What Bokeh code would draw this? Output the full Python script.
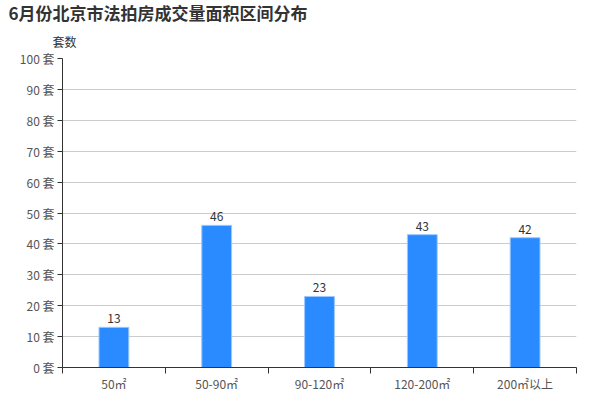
from bokeh.plotting import figure
from bokeh.models import ColumnDataSource, Range1d, FixedTicker, Title, LabelSet
from bokeh.core.properties import value
from bokeh.embed import file_html
from bokeh.resources import INLINE

categories = ["50㎡", "50-90㎡", "90-120㎡", "120-200㎡", "200㎡以上"]
counts = [13, 46, 23, 43, 42]
y_ticks = [0, 10, 20, 30, 40, 50, 60, 70, 80, 90, 100]
title_text = "6月份北京市法拍房成交量面积区间分布"
y_name = "套数"

FONT = "Noto Sans CJK SC"
xs = [i + 0.5 for i in range(len(categories))]
src = ColumnDataSource(dict(x=xs, top=counts, lab=[str(c) for c in counts]))

p = figure(width=600, height=400, output_backend="svg", toolbar_location=None,
           x_range=Range1d(0, len(categories)), y_range=Range1d(0, 100),
           min_border_left=62, min_border_right=24, min_border_top=0, min_border_bottom=33)
p.outline_line_color = None

p.vbar(x="x", top="top", width=0.29, source=src, fill_color="#2A8AFF",
       line_color="#9CC8FF", line_width=1)
labels = LabelSet(x="x", y="top", text="lab", source=src, text_align="center",
                  text_baseline="bottom", y_offset=4, text_font_size="12px",
                  text_color="#333333", text_font=value(FONT))
p.add_layout(labels)

# axes
p.xaxis.ticker = FixedTicker(ticks=xs, minor_ticks=list(range(len(categories) + 1)))
p.xaxis.major_label_overrides = {x: c for x, c in zip(xs, categories)}
p.xaxis.major_tick_line_color = None
p.xaxis.major_tick_out = 0
p.xaxis.major_tick_in = 0
p.xaxis.minor_tick_out = 6
p.xaxis.minor_tick_in = 0
p.xaxis.minor_tick_line_color = "#333333"
p.xaxis.axis_line_color = "#333333"
p.xaxis.major_label_text_font = FONT
p.xaxis.major_label_text_font_size = "12px"
p.xaxis.major_label_text_color = "#555555"
p.xaxis.major_label_standoff = 1

p.yaxis.ticker = FixedTicker(ticks=y_ticks)
p.yaxis.major_label_overrides = {t: f"{t}\u00a0套" for t in y_ticks}
p.yaxis.minor_tick_line_color = None
p.yaxis.major_tick_out = 5
p.yaxis.major_tick_in = 0
p.yaxis.axis_line_color = "#333333"
p.yaxis.major_tick_line_color = "#333333"
p.yaxis.major_label_text_font = FONT
p.yaxis.major_label_text_font_size = "12px"
p.yaxis.major_label_text_color = "#555555"
p.yaxis.major_label_standoff = 3

p.xgrid.grid_line_color = None
p.ygrid.grid_line_color = "#cccccc"
p.ygrid.ticker = FixedTicker(ticks=y_ticks)

t2 = Title(text=y_name, text_font=FONT, text_font_size="12px", text_font_style="normal",
           text_color="#333333", offset=-10, standoff=18)
p.add_layout(t2, "above")
t1 = Title(text=title_text, text_font=FONT, text_font_size="17px",
           text_font_style="bold", text_color="#333333", offset=-54, standoff=-6)
p.add_layout(t1, "above")

open("out.html", "w").write(file_html(p, INLINE))
